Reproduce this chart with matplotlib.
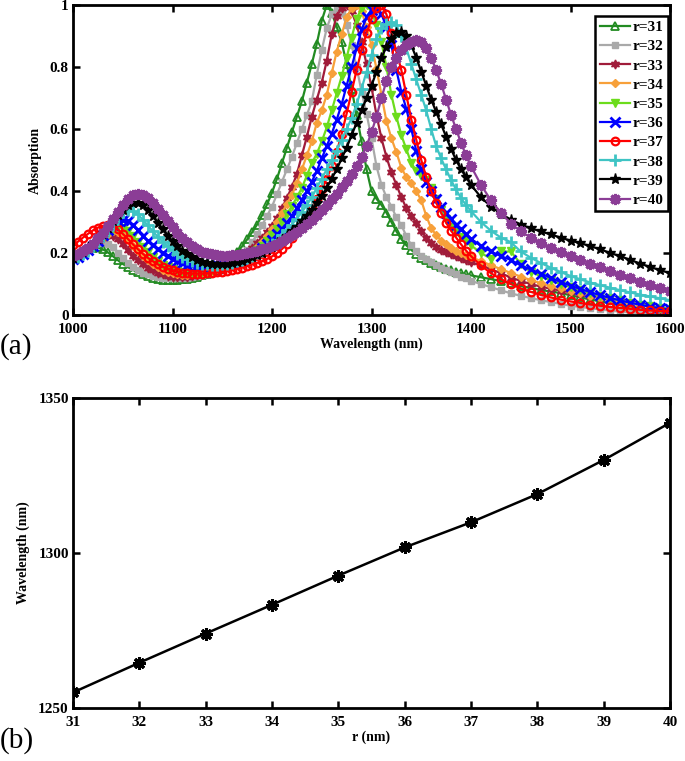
import matplotlib
matplotlib.use('Agg')
import matplotlib.pyplot as plt

plt.rcParams['font.family'] = ['Liberation Serif', 'DejaVu Serif']
plt.rcParams['font.weight'] = 'bold'

# wavelength grid (nm)
wl = list(range(1000, 1400, 5)) + list(range(1400, 1601, 10))

# absorption spectra
a31 = [.19, .197, .205, .212, .217, .218, .212, .202, .19, .177,
       .165, .155, .146, .138, .131, .125, .12, .116, .113, .112,
       .112, .113, .115, .117, .12, .124, .129, .134, .14, .147,
       .155, .167, .182, .202, .222, .244, .267, .292, .322, .357,
       .395, .44, .49, .54, .59, .64, .69, .75, .81, .875,
       .95, 1.0, .975, .93, .88, .81, .73, .645, .56, .47,
       .40, .375, .355, .33, .30, .27, .245, .225, .21, .197,
       .185, .176, .168, .161, .155, .15, .145, .14, .135, .131,
       .128, .122, .116, .11, .102, .094, .087, .081, .076, .071,
       .064, .057, .05, .044, .038, .032, .027, .022, .017, .013, .01]
a32 = [.185, .195, .205, .215, .225, .232, .235, .23, .218, .2,
       .183, .168, .155, .145, .137, .131, .126, .122, .12, .119,
       .118, .118, .119, .12, .122, .125, .128, .132, .136, .14,
       .145, .152, .162, .175, .19, .21, .235, .26, .29, .32,
       .35, .39, .43, .47, .51, .555, .60, .645, .69, .775,
       .855, .925, .97, .99, .975, .935, .87, .8, .72, .65,
       .57, .48, .42, .38, .35, .315, .29, .255, .225, .205,
       .192, .18, .17, .16, .152, .145, .138, .131, .124, .118,
       .11, .1, .09, .08, .07, .062, .055, .048, .042, .036,
       .03, .026, .022, .018, .014, .011, .008, .006, .004, .003, .002]
a33 = [.185, .195, .205, .215, .228, .24, .25, .257, .255, .245,
       .228, .21, .192, .177, .164, .153, .144, .137, .131, .127,
       .124, .123, .123, .124, .126, .129, .132, .136, .14, .145,
       .15, .157, .165, .175, .187, .2, .215, .232, .25, .268,
       .288, .312, .345, .378, .413, .455, .515, .575, .64, .695,
       .75, .82, .905, .965, .99, 1.0, .98, .935, .88, .81,
       .735, .645, .57, .51, .46, .42, .38, .345, .32, .297,
       .272, .248, .232, .22, .21, .202, .196, .19, .183, .177,
       .171, .16, .148, .135, .121, .11, .1, .092, .085, .079,
       .073, .068, .062, .056, .05, .044, .038, .032, .026, .021, .016]
a34 = [.185, .193, .203, .214, .226, .239, .252, .263, .27, .268,
       .258, .242, .224, .206, .19, .176, .164, .154, .146, .14,
       .135, .132, .13, .13, .131, .133, .136, .139, .143, .147,
       .152, .158, .165, .173, .182, .193, .205, .219, .235, .255,
       .277, .3, .33, .358, .388, .425, .47, .515, .56, .62,
       .66, .71, .78, .85, .905, .96, .99, 1.0, .98, .93,
       .87, .795, .71, .625, .57, .525, .475, .445, .425, .4,
       .37, .32, .28, .258, .24, .228, .217, .208, .2, .193,
       .187, .174, .161, .148, .136, .124, .113, .103, .094, .086,
       .078, .07, .063, .056, .05, .044, .038, .032, .027, .022, .018]
a35 = [.185, .192, .2, .21, .222, .236, .25, .264, .276, .283,
       .281, .27, .254, .236, .218, .202, .187, .174, .163, .154,
       .147, .142, .139, .137, .137, .138, .14, .142, .145, .149,
       .153, .158, .164, .171, .179, .188, .198, .21, .224, .24,
       .258, .278, .3, .325, .352, .38, .41, .45, .49, .52,
       .56, .605, .66, .715, .77, .83, .895, .955, .99, 1.0,
       .98, .935, .88, .8, .71, .64, .58, .535, .49, .465,
       .45, .435, .41, .375, .34, .31, .285, .268, .252, .238,
       .225, .2, .182, .205, .205, .165, .14, .125, .112, .1,
       .09, .08, .071, .062, .054, .047, .04, .034, .029, .024, .02]
a36 = [.18, .188, .198, .21, .224, .24, .257, .274, .29, .302,
       .308, .303, .29, .273, .256, .24, .226, .213, .201, .191,
       .182, .174, .168, .163, .16, .158, .157, .157, .158, .16,
       .162, .165, .169, .174, .18, .187, .195, .204, .215, .228,
       .243, .26, .278, .298, .32, .345, .372, .4, .43, .465,
       .505, .545, .585, .63, .68, .74, .8, .86, .92, .96,
       .985, .99, .97, .93, .87, .79, .72, .665, .6, .53,
       .47, .43, .4, .375, .35, .33, .31, .292, .277, .26,
       .246, .223, .205, .19, .178, .16, .147, .134, .12, .107,
       .095, .084, .074, .064, .055, .047, .04, .033, .027, .022, .018]
a37 = [.225, .237, .25, .262, .273, .282, .288, .29, .286, .276,
       .262, .246, .229, .213, .198, .185, .174, .164, .156, .149,
       .144, .14, .137, .135, .134, .134, .134, .135, .137, .139,
       .14, .142, .145, .149, .153, .158, .163, .168, .174, .181,
       .189, .2, .213, .23, .25, .27, .292, .317, .345, .375,
       .405, .44, .48, .525, .585, .65, .72, .79, .855, .91,
       .955, .99, 1.0, .97, .91, .85, .79, .71, .63, .565,
       .5, .445, .4, .362, .33, .298, .272, .25, .228, .208,
       .19, .16, .135, .116, .1, .086, .075, .065, .057, .05,
       .044, .039, .034, .03, .026, .023, .02, .017, .015, .013, .012]
a38 = [.178, .186, .196, .208, .222, .238, .256, .275, .295, .315,
       .332, .34, .337, .325, .308, .29, .271, .253, .237, .222,
       .209, .198, .188, .18, .174, .169, .166, .164, .163, .163,
       .164, .166, .169, .173, .178, .184, .191, .199, .208, .218,
       .23, .243, .258, .274, .292, .311, .332, .355, .38, .41,
       .44, .47, .5, .53, .565, .6, .635, .68, .73, .785,
       .84, .89, .925, .94, .945, .935, .9, .86, .81, .76,
       .71, .66, .6, .545, .505, .47, .435, .405, .377, .355,
       .335, .3, .272, .25, .235, .205, .185, .168, .153, .139,
       .126, .115, .105, .096, .088, .08, .073, .066, .06, .054, .048]
a39 = [.185, .193, .203, .215, .229, .245, .263, .282, .302, .322,
       .34, .354, .362, .363, .355, .34, .32, .298, .276, .256,
       .238, .222, .208, .196, .186, .178, .172, .168, .166, .165,
       .165, .166, .168, .171, .175, .18, .186, .193, .201, .21,
       .22, .231, .243, .256, .27, .285, .302, .32, .34, .362,
       .385, .41, .44, .47, .505, .54, .58, .62, .66, .70,
       .74, .785, .83, .865, .89, .91, .912, .9, .87, .83,
       .785, .74, .695, .655, .615, .575, .535, .5, .47, .445,
       .42, .38, .35, .327, .308, .292, .28, .27, .26, .25,
       .24, .232, .222, .212, .2, .19, .178, .166, .155, .145, .135]
a40 = [.19, .196, .205, .216, .23, .247, .266, .288, .31, .333,
       .355, .373, .386, .39, .387, .377, .362, .343, .322, .302,
       .283, .266, .25, .236, .224, .213, .204, .2, .196, .193,
       .192, .192, .193, .195, .197, .2, .203, .207, .212, .217,
       .223, .23, .238, .247, .257, .268, .28, .293, .307, .322,
       .338, .355, .373, .392, .412, .433, .455, .48, .51, .545,
       .59, .64, .7, .755, .8, .83, .855, .872, .882, .887,
       .882, .862, .83, .79, .745, .695, .645, .6, .555, .515,
       .48, .42, .37, .33, .295, .27, .25, .232, .217, .203,
       .19, .178, .166, .154, .142, .13, .118, .107, .096, .086, .077]

labels = ['r=31', 'r=32', 'r=33', 'r=34', 'r=35', 'r=36', 'r=37', 'r=38', 'r=39', 'r=40']
spectra = [a31, a32, a33, a34, a35, a36, a37, a38, a39, a40]

# panel (b): resonance wavelength vs radius
r_nm = [31, 32, 33, 34, 35, 36, 37, 38, 39, 40]
peak_wl = [1255, 1264.6, 1274, 1283.3, 1292.7, 1301.8, 1309.9, 1319, 1330, 1342]

styles = [
    dict(color='#228b22', marker='^', mfc='none', ms=6, mew=1.3),
    dict(color='#a9a9a9', marker='s', mfc='#a9a9a9', ms=4.5, mew=1),
    dict(color='#a01c3a', marker=(6, 1, 0), mfc='#a01c3a', ms=6.5, mew=1),
    dict(color='#f7a03a', marker='D', mfc='#f7a03a', ms=4.5, mew=1),
    dict(color='#6cdc1c', marker='v', mfc='#6cdc1c', ms=6, mew=1),
    dict(color='#0000ff', marker='x', ms=6.5, mew=2),
    dict(color='#ff0000', marker='o', mfc='none', ms=5.5, mew=1.6),
    dict(color='#3fc4c4', marker='+', ms=8, mew=2),
    dict(color='#000000', marker='*', mfc='#000000', ms=8, mew=1),
    dict(color='#8b3d96', marker=(8, 2, 0), ms=8, mew=2.2),
]

fig = plt.figure(figsize=(6.85, 7.61), dpi=100)
ax1 = fig.add_axes([0.1066, 0.586, 0.8715, 0.4074])
ax2 = fig.add_axes([0.1066, 0.0697, 0.8715, 0.4073])

for vals, lab, st in zip(spectra, labels, styles):
    ax1.plot(wl, vals, lw=1.6, label=lab, **st)

ax1.set_xlim(1000, 1600)
ax1.set_ylim(0, 1)
ax1.set_xticks(range(1000, 1601, 100))
ax1.set_yticks([0, 0.2, 0.4, 0.6, 0.8, 1.0])
ax1.set_yticklabels(['0', '0.2', '0.4', '0.6', '0.8', '1'])
ax1.set_xlabel('Wavelength (nm)', fontsize=10, fontweight='bold', labelpad=1)
ax1.set_ylabel('Absorption', fontsize=10, fontweight='bold', labelpad=6)

leg = ax1.legend(loc='upper right', bbox_to_anchor=(0.997, 0.965), fontsize=11,
                 handlelength=2.0, handletextpad=0.15, labelspacing=0.36,
                 borderpad=0.3, borderaxespad=0, fancybox=False, framealpha=1)
leg.get_frame().set_edgecolor('black')
leg.get_frame().set_linewidth(1.8)

ax2.plot(r_nm, peak_wl, color='black', lw=1.8, marker=(8, 2, 0), ms=9, mew=2.2)
ax2.set_xlim(31, 40)
ax2.set_ylim(1250, 1350)
ax2.set_xticks(r_nm)
ax2.set_yticks([1250, 1300, 1350])
ax2.set_xlabel('r (nm)', fontsize=10, fontweight='bold', labelpad=1)
ax2.set_ylabel('Wavelength (nm)', fontsize=10, fontweight='bold', labelpad=6)

for ax in (ax1, ax2):
    for sp in ax.spines.values():
        sp.set_linewidth(2)
    ax.tick_params(direction='in', length=5, width=1.8, top=True, right=True,
                   labelsize=11, pad=3)
    ax.tick_params(axis='x', pad=6)
    for t in ax.get_xticklabels() + ax.get_yticklabels():
        t.set_fontweight('bold')

fig.text(0.0, 0.545, '(a)', fontsize=21, fontweight='normal', va='center', ha='left')
fig.text(0.0, 0.027, '(b)', fontsize=21, fontweight='normal', va='center', ha='left')

fig.savefig('out.png', dpi=100)
